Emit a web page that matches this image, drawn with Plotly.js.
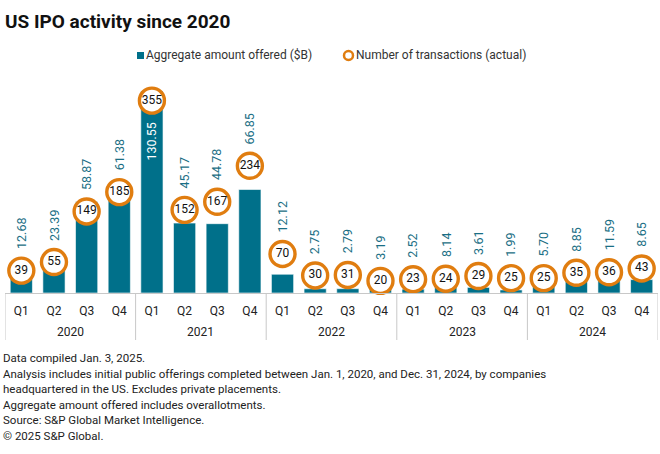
<!DOCTYPE html>
<html>
<head>
<meta charset="utf-8">
<script src="https://cdn.plot.ly/plotly-3.0.1.min.js"></script>
<style>html,body{margin:0;padding:0;background:#fff;}#chart{width:660px;height:454px;}</style>
</head>
<body>
<div id="chart"></div>
<script>
const years = ["2020","2020","2020","2020","2021","2021","2021","2021","2022","2022","2022","2022","2023","2023","2023","2023","2024","2024","2024","2024"];
const quarters = ["Q1","Q2","Q3","Q4","Q1","Q2","Q3","Q4","Q1","Q2","Q3","Q4","Q1","Q2","Q3","Q4","Q1","Q2","Q3","Q4"];
const amountOffered = [12.68,23.39,58.87,61.38,130.55,45.17,44.78,66.85,12.12,2.75,2.79,3.19,2.52,8.14,3.61,1.99,5.70,8.85,11.59,8.65];
const transactions = [39,55,149,185,355,152,167,234,70,30,31,20,23,24,29,25,25,35,36,43];
const footnotes = [
  "Data compiled Jan. 3, 2025.",
  "Analysis includes initial public offerings completed between Jan. 1, 2020, and Dec. 31, 2024, by companies",
  "headquartered in the US. Excludes private placements.",
  "Aggregate amount offered includes overallotments.",
  "Source: S&P Global Market Intelligence.",
  "© 2025 S&P Global."
];

const TEAL = "#00708A";
const ORANGE = "#E07D10";
const DIV = "#c8c8c8";
const FONT = "Roboto, 'Liberation Sans', sans-serif";

const y1Range = [0, 137.6];
const y2Range = [-2.6, 393.4];
const plotTop = 80, plotBottom = 293, plotH = plotBottom - plotTop;
const plotL = 5, plotW = 653;
const y2px = v => plotBottom - (v - y2Range[0]) / (y2Range[1] - y2Range[0]) * plotH;
const px2paperY = py => (plotBottom - py) / plotH;
const px2paperX = px => (px - plotL) / plotW;

const idx = quarters.map((_, i) => i);

const traces = [
  {
    type: "bar",
    x: idx,
    y: amountOffered,
    name: "Aggregate amount offered ($B)",
    marker: {color: TEAL, line: {color: "#ffffff", width: 0.6}},
    hoverinfo: "y",
    showlegend: false
  },
  {
    type: "scatter",
    mode: "markers+text",
    x: idx,
    y: transactions,
    yaxis: "y2",
    name: "Number of transactions (actual)",
    text: transactions.map(String),
    textposition: "middle center",
    textfont: {family: FONT, size: 12, color: "#111"},
    marker: {symbol: "circle", size: 25, color: "#ffffff", line: {color: ORANGE, width: 3.4}},
    showlegend: false,
    cliponaxis: false
  }
];

const annotations = [];
amountOffered.forEach((v, i) => {
  const cy = y2px(transactions[i]);
  const inside = (cy - 22 - 45) < plotTop;
  annotations.push({
    x: i, xref: "x", y: transactions[i], yref: "y2",
    text: v.toFixed(2), textangle: -90, showarrow: false,
    yanchor: inside ? "top" : "bottom", xanchor: "center",
    yshift: inside ? -20 : 19.5,
    font: {family: FONT, size: 12.5, color: inside ? "#ffffff" : "#1A6E84"}
  });
});

// year group labels and dividers, derived from the years array
const shapes = [];
const groups = [];
years.forEach((y, i) => {
  if (!groups.length || groups[groups.length - 1].year !== y) groups.push({year: y, start: i, end: i});
  else groups[groups.length - 1].end = i;
});
groups.forEach(g => {
  annotations.push({
    x: (g.start + g.end) / 2, xref: "x", y: px2paperY(332), yref: "paper",
    xanchor: "center", yanchor: "middle", showarrow: false,
    text: g.year, font: {family: FONT, size: 12, color: "#222"}
  });
  shapes.push({type: "line", xref: "x", yref: "paper", x0: g.start - 0.5, x1: g.start - 0.5, y0: 0, y1: px2paperY(340), line: {color: DIV, width: 1}});
});
const lastG = groups[groups.length - 1];
shapes.push({type: "line", xref: "x", yref: "paper", x0: lastG.end + 0.5, x1: lastG.end + 0.5, y0: 0, y1: px2paperY(340), line: {color: DIV, width: 1}});

footnotes.forEach((t, k) => {
  annotations.push({
    xref: "paper", yref: "paper", x: px2paperX(1), y: px2paperY(358 + k * 15.6),
    xanchor: "left", yanchor: "middle", align: "left", showarrow: false,
    text: t, font: {family: FONT, size: 11.5, color: "#222"}
  });
});

// custom legend
annotations.push({
  xref: "paper", yref: "paper", x: px2paperX(144), y: px2paperY(55), xanchor: "left", yanchor: "middle",
  showarrow: false, text: "Aggregate amount offered ($B)", font: {family: FONT, size: 12, color: "#333"}
});
annotations.push({
  xref: "paper", yref: "paper", x: px2paperX(354), y: px2paperY(55), xanchor: "left", yanchor: "middle",
  showarrow: false, text: "Number of transactions (actual)", font: {family: FONT, size: 12, color: "#333"}
});
shapes.push(
  {type: "rect", xref: "paper", yref: "paper", x0: px2paperX(137), x1: px2paperX(144), y0: px2paperY(59), y1: px2paperY(52), fillcolor: TEAL, line: {width: 0}},
  {type: "circle", xref: "paper", yref: "paper", x0: px2paperX(344), x1: px2paperX(353), y0: px2paperY(60), y1: px2paperY(51), fillcolor: "#fff", line: {color: ORANGE, width: 2.5}}
);

const layout = {
  width: 660, height: 454,
  margin: {l: plotL, r: 660 - plotL - plotW, t: plotTop, b: 454 - plotBottom},
  paper_bgcolor: "#fff", plot_bgcolor: "#fff",
  font: {family: FONT, color: "#222"},
  title: {text: "<b>US IPO activity since 2020</b>", x: 5/660, xref: "container", xanchor: "left", y: 1 - 21/454, yref: "container", yanchor: "middle", font: {family: FONT, size: 19, color: "#111"}},
  bargap: 0.32,
  showlegend: false,
  xaxis: {
    type: "linear",
    range: [-0.5, 19.5],
    tickmode: "array", tickvals: idx, ticktext: quarters,
    showline: true, linecolor: DIV, linewidth: 1,
    ticks: "", ticklabelstandoff: 7, showgrid: false, zeroline: false,
    tickfont: {family: FONT, size: 12, color: "#222"}
  },
  yaxis: {range: y1Range, visible: false, showgrid: false, zeroline: false, fixedrange: true},
  yaxis2: {range: y2Range, overlaying: "y", side: "right", visible: false, showgrid: false, zeroline: false},
  annotations: annotations,
  shapes: shapes
};

Plotly.newPlot("chart", traces, layout, {displayModeBar: false, staticPlot: true});
</script>
</body>
</html>
